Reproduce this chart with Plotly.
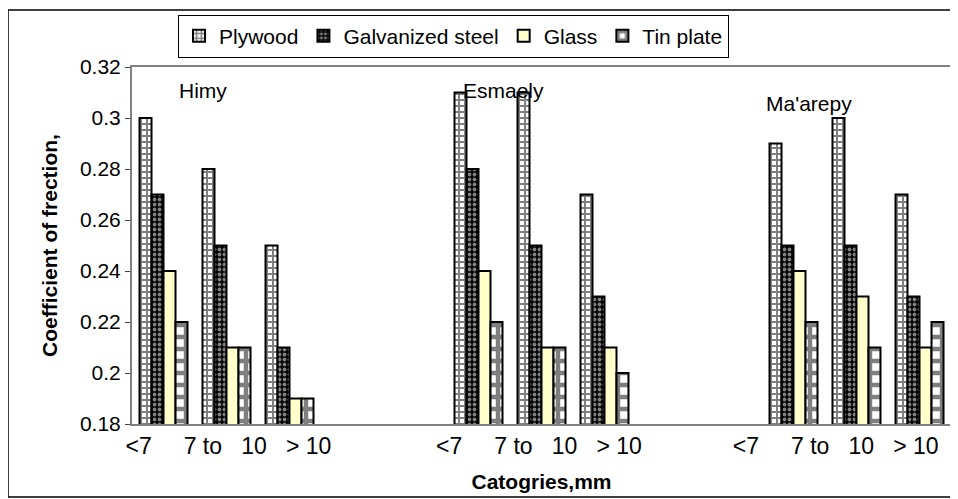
import plotly.graph_objects as go

# ---- data ----
slots = ["Himy <7", "Himy 7 to 10", "Himy > 10", "sp1", "sp2",
         "Esmaely <7", "Esmaely 7 to 10", "Esmaely > 10", "sp3", "sp4",
         "Ma'arepy <7", "Ma'arepy 7 to 10", "Ma'arepy > 10"]
bar_slots = ["Himy <7", "Himy 7 to 10", "Himy > 10",
             "Esmaely <7", "Esmaely 7 to 10", "Esmaely > 10",
             "Ma'arepy <7", "Ma'arepy 7 to 10", "Ma'arepy > 10"]
plywood = [0.30, 0.28, 0.25, 0.31, 0.31, 0.27, 0.29, 0.30, 0.27]
galvanized = [0.27, 0.25, 0.21, 0.28, 0.25, 0.23, 0.25, 0.25, 0.23]
glass = [0.24, 0.21, 0.19, 0.24, 0.21, 0.21, 0.24, 0.23, 0.21]
tin_plate = [0.22, 0.21, 0.19, 0.22, 0.21, 0.20, 0.22, 0.21, 0.22]
series_names = ["Plywood", "Galvanized steel", "Glass", "Tin plate"]
group_names = ["Himy", "Esmaely", "Ma'arepy"]
NB = "\u00a0"
x_tick_text = "&lt;7" + NB * 5 + "7 to" + NB * 3 + "10" + NB * 3 + "&gt; 10"
y_ticks = [0.18, 0.2, 0.22, 0.24, 0.26, 0.28, 0.3, 0.32]
y_tick_text = ["0.18", "0.2", "0.22", "0.24", "0.26", "0.28", "0.3", "0.32"]

FONT = "Liberation Sans, Arial, sans-serif"
FS = 21

styles = [
    dict(color="white", line=dict(color="black", width=2),
         pattern=dict(shape="+", fgcolor="black", bgcolor="white", size=6, solidity=0.55)),
    dict(color="black", line=dict(color="black", width=2),
         pattern=dict(shape=".", fgcolor="white", bgcolor="black", size=5, solidity=0.45)),
    dict(color="#FFFFCC", line=dict(color="black", width=2)),
    dict(color="white", line=dict(color="black", width=2),
         pattern=dict(shape="+", fgcolor="black", bgcolor="white", size=12, solidity=0.6)),
]

fig = go.Figure()
for name, vals, st in zip(series_names, [plywood, galvanized, glass, tin_plate], styles):
    fig.add_trace(go.Bar(x=bar_slots, y=vals, name=name, marker=st))

fig.update_layout(
    width=950, height=491,
    margin=dict(l=124, r=7, t=59, b=75, autoexpand=False),
    paper_bgcolor="white", plot_bgcolor="white",
    font=dict(family=FONT, size=FS, color="black"),
    barmode="group", bargap=0.238, bargroupgap=0,
    showlegend=True,
    legend=dict(orientation="h", x=0.0562, xanchor="left", y=1.1465, yanchor="top",
                bordercolor="black", borderwidth=1, bgcolor="white",
                font=dict(family=FONT, size=FS), itemwidth=30,
                tracegroupgap=0),
)
fig.update_xaxes(
    type="category", categoryorder="array", categoryarray=slots,
    range=[-0.5, 12.5], automargin=False,
    tickmode="array", tickvals=[1.03, 5.96, 10.67], ticktext=[x_tick_text] * 3,
    ticks="", showline=True, linecolor="#808080", linewidth=2, mirror=True,
    showgrid=False, zeroline=False, tickfont=dict(size=23),
    title=dict(text="<b>Catogries,mm</b>", font=dict(size=FS), standoff=17),
)
fig.update_yaxes(
    range=[0.18, 0.32], tickmode="array", tickvals=y_ticks, ticktext=y_tick_text,
    automargin=False,
    ticks="outside", ticklen=5, tickcolor="#404040", tickwidth=1,
    showline=True, linecolor="#808080", linewidth=2, mirror=True,
    showgrid=False, zeroline=False, tickfont=dict(size=FS),
    title=dict(text="<b>Coefficient of frection,</b>", font=dict(size=FS), standoff=17),
)

ann_pos = [(0.63, 0.3106), (5.39, 0.3106), (10.25, 0.3057)]
for name, (ax_, ay_) in zip(group_names, ann_pos):
    fig.add_annotation(x=ax_, y=ay_, text=name, showarrow=False,
                       font=dict(family=FONT, size=FS, color="black"))

fig.add_shape(type="rect", xref="paper", yref="paper",
              x0=-0.1514, x1=1.0061, y0=-0.2045, y1=1.1597,
              line=dict(color="black", width=1.5), layer="below")

fig.write_html("out.html")
